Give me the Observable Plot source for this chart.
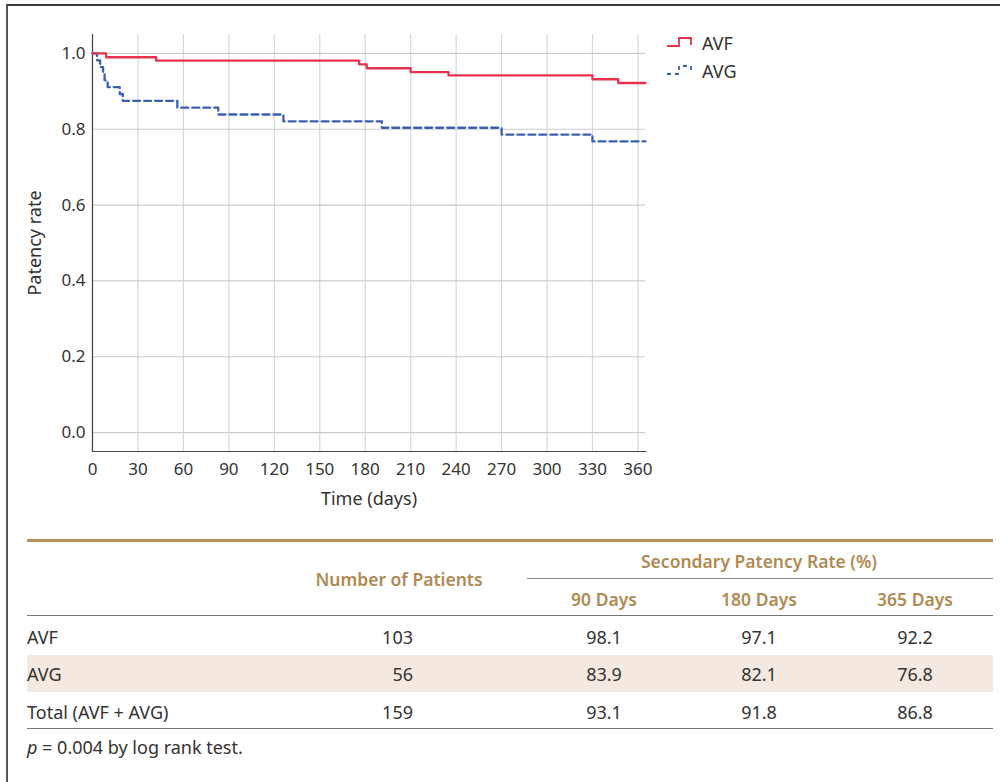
<!DOCTYPE html>
<html>
<head>
<meta charset="utf-8">
<script src="https://cdn.jsdelivr.net/npm/d3@7"></script>
<script src="https://cdn.jsdelivr.net/npm/@observablehq/plot@0.6"></script>
<style>
  html, body { margin: 0; padding: 0; background: #fff; }
  body { width: 1000px; height: 782px; position: relative; overflow: hidden; font-family: "Noto Sans", sans-serif; color: #333; }
  #frame { position: absolute; left: 6px; top: 4px; width: 1000px; height: 800px; border-top: 2px solid #3a3a3a; border-left: 2px solid #555; box-sizing: border-box; }
  #chart { position: absolute; left: 0; top: 0; }
  #legend { position: absolute; left: 666px; top: 30px; font-size: 18px; color: #333; }
  .lg { position: absolute; left: 0; height: 26px; width: 120px; }
  .lg svg { position: absolute; left: 0; top: 6px; }
  .lg span { position: absolute; left: 36px; top: 0px; line-height: 26px; }
  .t { position: absolute; white-space: nowrap; font-size: 18px; line-height: 20px; }
  .gold { color: #b08a52; font-weight: 600; font-size: 17.5px; }
  .rule { position: absolute; }
</style>
</head>
<body>
<div id="frame"></div>
<div id="chart"></div>
<div id="legend"></div>
<div id="table"></div>
<script>
// ---- Data ----
const xTicks = [0, 30, 60, 90, 120, 150, 180, 210, 240, 270, 300, 330, 360];
const yTicks = [0, 0.2, 0.4, 0.6, 0.8, 1.0];

const avfTime = [0, 9, 42, 176, 181, 210, 235, 330, 347, 365];
const avfSurv = [1.0, 0.990, 0.981, 0.971, 0.961, 0.951, 0.942, 0.932, 0.922, 0.922];

const avgTime = [0, 3, 5, 7, 8, 10, 18, 20, 56, 83, 126, 191, 270, 330, 365];
const avgSurv = [1.0, 0.982, 0.964, 0.946, 0.929, 0.911, 0.893, 0.875, 0.857, 0.839, 0.821, 0.804, 0.786, 0.768, 0.768];

const seriesNames = ["AVF", "AVG"];
const seriesColors = ["#e8334f", "#3d5fb3"];

const rowLabels = ["AVF", "AVG", "Total (AVF + AVG)"];
const patients = [103, 56, 159];
const rate90 = ["98.1", "83.9", "93.1"];
const rate180 = ["97.1", "82.1", "91.8"];
const rate365 = ["92.2", "76.8", "86.8"];
const dayHeaders = ["90 Days", "180 Days", "365 Days"];
const groupHeader = "Secondary Patency Rate (%)";
const countHeader = "Number of Patients";

// ---- Chart ----
const avf = avfTime.map((t, i) => ({t, s: avfSurv[i]}));
const avg = avgTime.map((t, i) => ({t, s: avgSurv[i]}));

const chart = Plot.plot({
  width: 660,
  height: 520,
  marginLeft: 92,
  marginRight: 15,
  marginTop: 34,
  marginBottom: 69,
  style: {fontFamily: "Noto Sans, sans-serif", fontSize: "17px", color: "#333", background: "transparent"},
  x: {domain: [0, 365]},
  y: {domain: [-0.05, 1.05]},
  marks: [
    Plot.gridX(xTicks, {stroke: "#d2d9e1", strokeOpacity: 1, strokeWidth: 1.2}),
    Plot.gridY(yTicks, {stroke: "#c9cbcd", strokeOpacity: 1, strokeWidth: 1.2}),
    Plot.axisX(xTicks, {tickSize: 0, tickPadding: 11, fontSize: 17, label: null}),
    Plot.axisY(yTicks, {tickSize: 0, tickPadding: 7, fontSize: 17, tickFormat: d3.format(".1f"), label: null}),
    Plot.ruleX([0], {y1: -0.05, y2: 1.05, stroke: "#444", strokeWidth: 1.2}),
    Plot.ruleY([-0.05], {x1: 0, x2: 366, stroke: "#444", strokeWidth: 1.2}),
    Plot.text(["Time (days)"], {frameAnchor: "bottom", textAnchor: "middle", lineAnchor: "middle", dy: 48, fontSize: 18, fill: "#333"}),
    Plot.text(["Patency rate"], {frameAnchor: "left", textAnchor: "middle", lineAnchor: "middle", rotate: -90, dx: -57, fontSize: 18, fill: "#333"}),
    Plot.line(avg, {x: "t", y: "s", curve: "step-after", stroke: seriesColors[1], strokeWidth: 2.3, strokeDasharray: "7,4"}),
    Plot.line(avf, {x: "t", y: "s", curve: "step-after", stroke: seriesColors[0], strokeWidth: 2.3})
  ]
});
document.getElementById("chart").appendChild(chart);

// ---- Legend ----
const legend = document.getElementById("legend");
seriesNames.forEach((name, i) => {
  const d = document.createElement("div");
  d.className = "lg";
  d.style.top = (i * 28) + "px";
  const dash = i === 1 ? ' stroke-dasharray="4,4"' : '';
  d.innerHTML = `<svg width="28" height="14"><path d="M1,10H13V2H25V9" fill="none" stroke="${seriesColors[i]}" stroke-width="1.8"${dash}/></svg><span>${name}</span>`;
  legend.appendChild(d);
});

// ---- Table ----
const table = document.getElementById("table");
function rule(x, y, w, h, color) {
  const r = document.createElement("div");
  r.className = "rule";
  Object.assign(r.style, {left: x + "px", top: y + "px", width: w + "px", height: h + "px", background: color});
  table.appendChild(r);
}
function text(str, x, yc, align, cls, html) {
  const t = document.createElement("div");
  t.className = "t" + (cls ? " " + cls : "");
  if (html) t.innerHTML = str; else t.textContent = str;
  t.style.top = (yc - 10) + "px";
  if (align === "left") t.style.left = x + "px";
  else if (align === "right") { t.style.right = (1000 - x) + "px"; }
  else { t.style.left = (x - 150) + "px"; t.style.width = "300px"; t.style.textAlign = "center"; }
  table.appendChild(t);
}
const L = 27, R = 993;
rule(L, 539, R - L, 3, "#b8925a");
text(groupHeader, 759, 561, "center", "gold");
rule(527, 578, R - 527, 1.3, "#8a8a8a");
text(countHeader, 399, 579, "center", "gold");
const colC = [604, 759, 915];
dayHeaders.forEach((h, i) => text(h, colC[i], 599, "center", "gold"));
rule(L, 615, R - L, 1.3, "#777");
const rowY = [636.5, 674, 711.5];
rule(L, 655, R - L, 37, "#f4e9e0");
rowLabels.forEach((lab, i) => {
  text(lab, L, rowY[i], "left");
  text(String(patients[i]), 413, rowY[i], "right");
  text(rate90[i], colC[0], rowY[i], "center");
  text(rate180[i], colC[1], rowY[i], "center");
  text(rate365[i], colC[2], rowY[i], "center");
});
rule(L, 728, R - L, 1.3, "#777");
text("<i>p</i> = 0.004 by log rank test.", L, 747, "left", "", true);
</script>
</body>
</html>
